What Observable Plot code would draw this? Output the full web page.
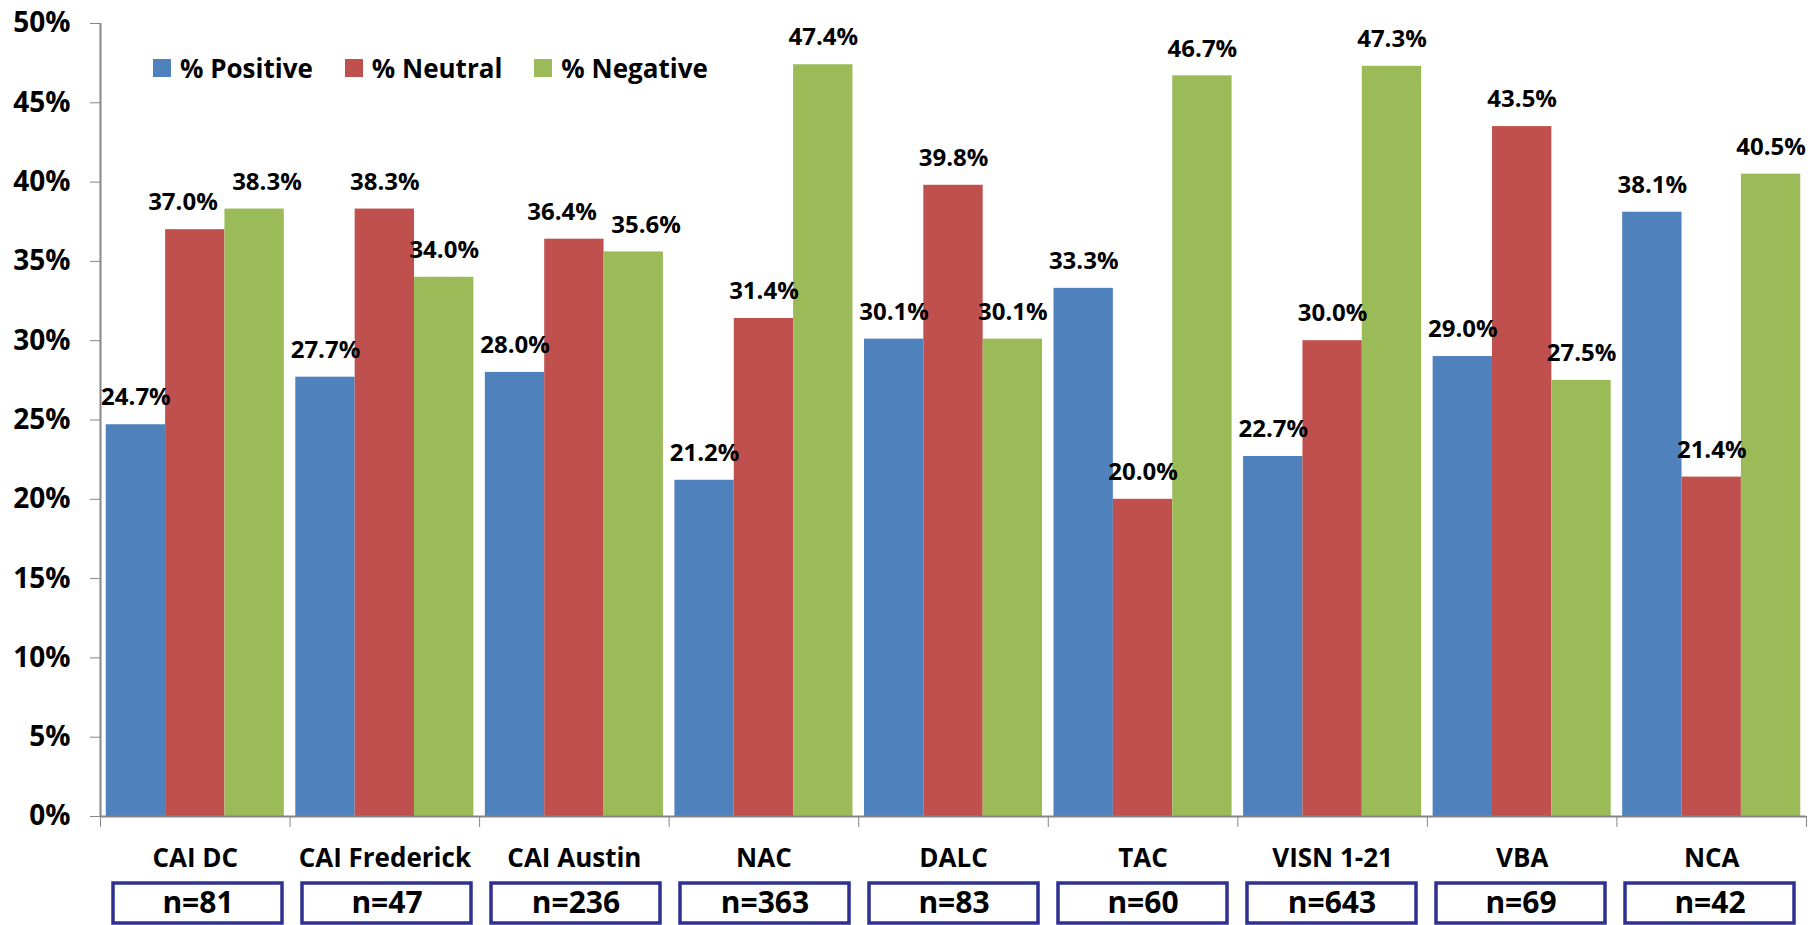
<!DOCTYPE html>
<html>
<head>
<meta charset="utf-8">
<script src="https://cdn.jsdelivr.net/npm/d3@7"></script>
<script src="https://cdn.jsdelivr.net/npm/@observablehq/plot@0.6"></script>
<style>
  html, body { margin: 0; padding: 0; background: #fff; }
  #chart { position: relative; width: 1816px; height: 925px; background: #fff; }
  #chart svg { display: block; }
  #chart svg text { fill: #000; }
  #legend { position: absolute; left: 153px; top: 50px; display: flex; gap: 32px; align-items: center;
            font-family: "Open Sans", sans-serif; font-weight: bold; font-size: 26px; color: #000; }
  #legend .item { display: flex; align-items: center; gap: 9px; }
  #legend .sw { width: 18px; height: 18px; display: inline-block; }
</style>
</head>
<body>
<div id="chart"><div id="legend"></div></div>
<script>
const categories = ["CAI DC", "CAI Frederick", "CAI Austin", "NAC", "DALC", "TAC", "VISN 1-21", "VBA", "NCA"];
const positive = [24.7, 27.7, 28.0, 21.2, 30.1, 33.3, 22.7, 29.0, 38.1];
const neutral  = [37.0, 38.3, 36.4, 31.4, 39.8, 20.0, 30.0, 43.5, 21.4];
const negative = [38.3, 34.0, 35.6, 47.4, 30.1, 46.7, 47.3, 27.5, 40.5];
const sampleSizes = [81, 47, 236, 363, 83, 60, 643, 69, 42];
const seriesNames = ["% Positive", "% Neutral", "% Negative"];
const seriesColors = ["#4F81BD", "#C0504D", "#9BBB59"];
const yTicks = [0, 0.05, 0.10, 0.15, 0.20, 0.25, 0.30, 0.35, 0.40, 0.45, 0.50];

const seriesValues = [positive, neutral, negative];
const rows = categories.flatMap((c, ci) => seriesValues.map((vals, si) => ({
  category: c, ci, series: seriesNames[si], si, value: vals[ci] / 100, nudge: 0
})));

// layout fractions within one category band
const GROUP_PAD = 0.0303;
const BAR_W = (1 - 2 * GROUP_PAD) / 3;
const left = d => d.ci + GROUP_PAD + d.si * BAR_W;

// spread apart neighbouring value labels whose heights are too close (avoid overlap)
const CLOSE = 0.016, SPREAD = 0.065;
categories.forEach((c, ci) => {
  for (let si = 0; si < seriesNames.length - 1; si++) {
    const a = rows[ci * 3 + si], b = rows[ci * 3 + si + 1];
    if (Math.abs(a.value - b.value) < CLOSE) { a.nudge -= SPREAD; b.nudge += SPREAD; }
  }
});

const FONT = "Open Sans, sans-serif";
const GRAY = "#868686";

const main = Plot.plot({
  width: 1816,
  height: 876,
  marginLeft: 100,
  marginRight: 10,
  marginTop: 23,
  marginBottom: 60,
  style: { fontFamily: FONT, fontSize: "28px", fontWeight: "bold", color: GRAY, background: "white", overflow: "visible" },
  x: { domain: [0, categories.length], ticks: d3.range(categories.length + 1), tickFormat: () => "", tickSize: 11, label: null },
  y: { domain: [0, 0.5], ticks: yTicks, tickFormat: d3.format(".0%"), tickSize: 10, tickPadding: 20, label: null },
  color: { domain: seriesNames, range: seriesColors },
  marks: [
    Plot.rect(rows, { x1: left, x2: d => left(d) + BAR_W, y1: 0, y2: "value", fill: "series" }),
    Plot.ruleY([0], { stroke: GRAY, strokeWidth: 2 }),
    Plot.ruleX([0], { stroke: GRAY, strokeWidth: 2 }),
    Plot.text(rows, {
      x: d => left(d) + BAR_W / 2 + d.nudge, y: "value", text: d => d3.format(".1%")(d.value),
      dy: -27, fontSize: 24, fontWeight: "bold", fontFamily: FONT, fill: "black"
    }),
    Plot.text(categories, {
      x: (d, i) => i + 0.5, y: () => 0, text: d => d,
      dy: 42, fontSize: 26, fontWeight: "bold", fontFamily: FONT, fill: "black"
    })
  ]
});

const boxes = Plot.plot({
  width: 1816,
  height: 49,
  marginLeft: 100,
  marginRight: 10,
  marginTop: 7,
  marginBottom: 2,
  style: { fontFamily: FONT, fontSize: "30px", fontWeight: "bold", background: "white", overflow: "visible" },
  x: { type: "band", domain: categories, paddingInner: 0.108, paddingOuter: 0.054, axis: null },
  marks: [
    Plot.cell(categories, { x: d => d, fill: "white", stroke: "#2E3192", strokeWidth: 3.5 }),
    Plot.text(categories, { x: d => d, text: (d, i) => "n=" + sampleSizes[i], frameAnchor: "middle",
      fontSize: 30, fontWeight: "bold", fontFamily: FONT, fill: "black" })
  ]
});

const chart = document.getElementById("chart");
chart.appendChild(main);
chart.appendChild(boxes);

const legend = document.getElementById("legend");
seriesNames.forEach((name, i) => {
  const item = document.createElement("div");
  item.className = "item";
  const sw = document.createElement("span");
  sw.className = "sw";
  sw.style.background = seriesColors[i];
  const label = document.createElement("span");
  label.textContent = name;
  item.appendChild(sw);
  item.appendChild(label);
  legend.appendChild(item);
});
</script>
</body>
</html>
